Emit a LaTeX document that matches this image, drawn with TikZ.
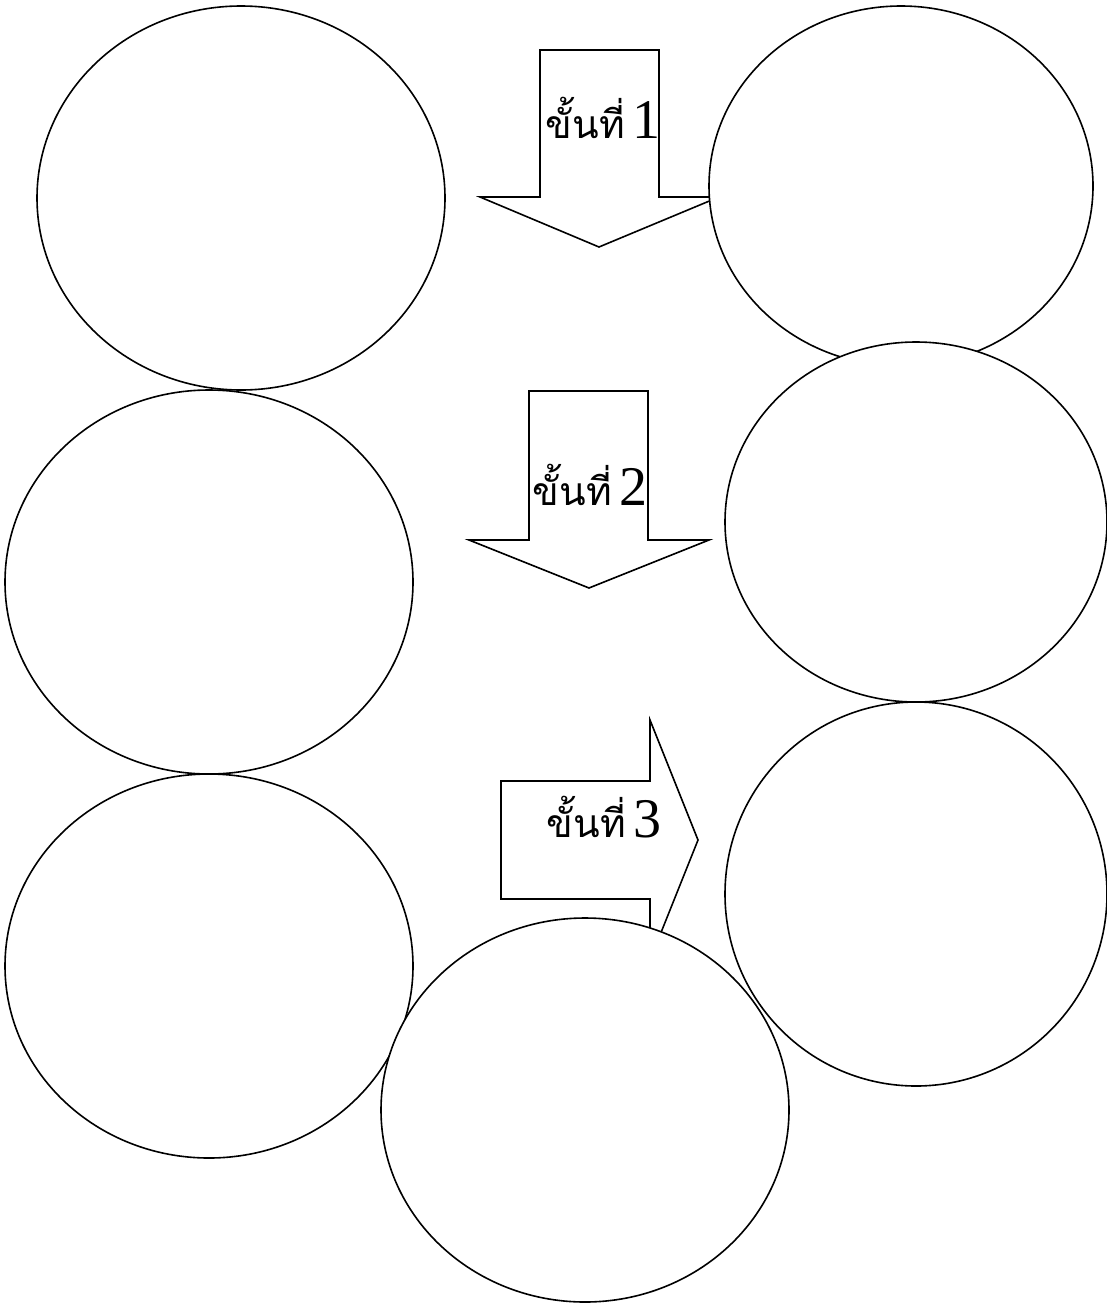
\documentclass[tikz,border=0pt]{standalone}
\usepackage{fontspec}
\setmainfont{Liberation Serif}
\newfontfamily\thaifont[Script=Thai]{Loma}
\usetikzlibrary{shapes.geometric}
\tikzset{
  bubble/.style={ellipse, draw=black, fill=white, line width=1.6pt, inner sep=0pt},
  bigbubble/.style={bubble, minimum width=408pt, minimum height=384pt},
  smallbubble/.style={bubble, minimum width=384pt, minimum height=360pt},
  rightbubble/.style={bubble, minimum width=382pt, minimum height=384pt},
  arrowshape/.style={draw=black, fill=white, line width=1.6pt, line join=miter},
  steplabel/.style={anchor=base, inner sep=0pt, font=\fontsize{56}{60}\selectfont}
}
\newcommand{\thstep}[1]{{\thaifont\fontsize{39}{44}\selectfont ขั้นที่}\hspace{7pt}#1}
\begin{document}
\begin{tikzpicture}[x=1pt, y=-1pt]
\useasboundingbox (0,0) rectangle (1107,1304);
% ellipse 1
\node[bigbubble] (e1) at (241,198) {};
% arrow 1 (down)
\draw[arrowshape] (540,50) -- (659,50) -- (659,197) -- (719,197) -- (599,247) -- (480,197) -- (540,197) -- cycle;
\node[steplabel] (t1) at (603,138) {\thstep{1}};
% ellipse 2
\node[smallbubble] (e2) at (901,186) {};
% ellipse 3
\node[bigbubble] (e3) at (209,582) {};
% arrow 2 (down)
\draw[arrowshape] (529,391) -- (648,391) -- (648,540) -- (709,540) -- (589,588) -- (469,540) -- (529,540) -- cycle;
\node[steplabel] (t2) at (590,505) {\thstep{2}};
% ellipse 4
\node[bubble, minimum width=382pt, minimum height=360pt] (e4) at (916,522) {};
% ellipse 5
\node[bigbubble] (e5) at (209,966) {};
% arrow 3 (right)
\draw[arrowshape] (501,781) -- (650,781) -- (650,720) -- (698,840) -- (650,960) -- (650,899) -- (501,899) -- cycle;
\node[steplabel] (t3) at (604,837) {\thstep{3}};
% ellipse 6
\node[rightbubble] (e6) at (916,894) {};
% ellipse 7
\node[bigbubble] (e7) at (585,1110) {};
\end{tikzpicture}
\end{document}
